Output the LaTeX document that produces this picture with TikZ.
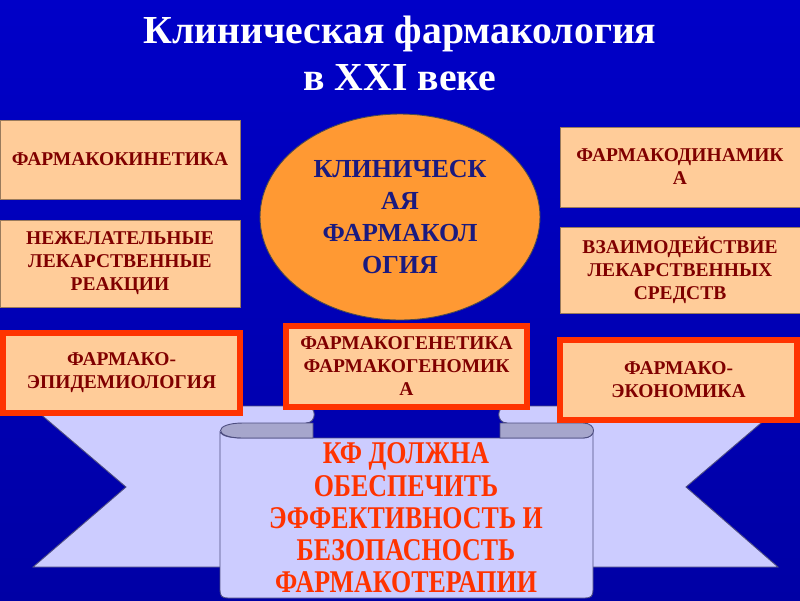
\documentclass[tikz,border=0pt]{standalone}
\usepackage{fontspec}
\setmainfont{Liberation Serif}
\newfontfamily\narrowserif[FakeStretch=0.82]{Liberation Serif}
\usetikzlibrary{shapes.geometric, positioning}
\definecolor{bgtop}{RGB}{0,0,200}
\definecolor{bgmid}{RGB}{0,0,240}
\definecolor{bgbot}{RGB}{0,0,165}
\definecolor{peach}{HTML}{FFCC99}
\definecolor{redframe}{HTML}{FF3300}
\definecolor{boxtext}{HTML}{800000}
\definecolor{orangeell}{HTML}{FF9933}
\definecolor{navytext}{HTML}{1A1A80}
\definecolor{lavender}{HTML}{CCCCFF}
\definecolor{lavdark}{HTML}{A6A6CC}
\definecolor{lavline}{HTML}{4D4D80}
\tikzset{
  % --- Bloki ------------------------------------------------
  fbox/.style={draw=peach!60!black, line width=0.5pt, fill=peach,
    align=center, text=boxtext, minimum width=4.8cm,
    font=\bfseries\fontsize{11.1pt}{13.1pt}\selectfont, inner sep=2pt},
  fboxr/.style={fbox, draw=redframe, line width=3.4pt, minimum width=4.74cm,
    minimum height=1.6cm},
  centre/.style={draw=black!70, line width=0.5pt, ellipse, fill=orangeell,
    minimum width=5.6cm, minimum height=4.12cm, align=center,
    text=navytext, font=\bfseries\fontsize{14.8pt}{18.2pt}\selectfont,
    inner sep=0pt},
  % --- Lenta i svitok ---------------------------------------
  band/.style={draw=lavline, line width=0.5pt, fill=lavender},
  fold/.style={draw=lavline, line width=0.5pt, fill=lavdark},
  scrolltxt/.style={align=center, text=redframe,
    font=\narrowserif\bfseries\fontsize{18pt}{18.4pt}\selectfont},
  titletxt/.style={align=center, text=white,
    font=\bfseries\fontsize{22.6pt}{26.7pt}\selectfont}
}
\begin{document}
\begin{tikzpicture}[x=0.02cm, y=-0.02cm]
  \useasboundingbox (0,0) rectangle (800,600);
  \shade[top color=bgtop, middle color=bgmid, bottom color=bgbot]
    (0,0) rectangle (800,600);

  % ---------- Zagolovok ----------
  \node[titletxt] (title) at (400,53)
    {Клиническая фармакология\\в XXI веке};

  % ---------- Lenta ----------
  \draw[band] (31,406) -- (306,406) .. controls (317,406) and (317,423) ..
    (306,423) -- (306,567) -- (33,567) -- (126,487) -- cycle;
  \draw[band] (781,406) -- (507,406) .. controls (496,406) and (496,423) ..
    (507,423) -- (507,567) -- (778,567) -- (686,487) -- cycle;

  % ---------- Svitok ----------
  \draw[band] (220,432) .. controls (222,436) and (230,438) .. (243,438)
    -- (583,438) .. controls (590,438) and (593,435) .. (593,430)
    -- (593,590) .. controls (593,596) and (591,598) .. (585,598)
    -- (228,598) .. controls (222,598) and (220,596) .. (220,590) -- cycle;
  \draw[fold] (313,423) -- (243,423) .. controls (213,423) and (213,438) ..
    (243,438) -- (313,438) -- cycle;
  \draw[fold] (500,423) -- (583,423) .. controls (597,423) and (597,438) ..
    (583,438) -- (500,438) -- cycle;
  \node[scrolltxt] (kf) at (406,518)
    {КФ ДОЛЖНА\\ОБЕСПЕЧИТЬ\\ЭФФЕКТИВНОСТЬ И\\БЕЗОПАСНОСТЬ\\ФАРМАКОТЕРАПИИ};

  % ---------- Levaya kolonka ----------
  \node[fbox, minimum height=1.58cm] (kin) at (120,159.5) {ФАРМАКОКИНЕТИКА};
  \node[fbox, minimum height=1.74cm] (nlr) at (120,263.5)
    {НЕЖЕЛАТЕЛЬНЫЕ\\ЛЕКАРСТВЕННЫЕ\\РЕАКЦИИ};
  \node[fboxr] (epi) at (121.5,373) {ФАРМАКО-\\ЭПИДЕМИОЛОГИЯ};

  % ---------- Pravaya kolonka ----------
  \node[fbox, minimum height=1.6cm] (din) at (680,167)
    {ФАРМАКОДИНАМИК\\А};
  \node[fbox, minimum height=1.72cm] (vzm) at (680,270)
    {ВЗАИМОДЕЙСТВИЕ\\ЛЕКАРСТВЕННЫХ\\СРЕДСТВ};
  \node[fboxr] (eco) at (678.5,380) {ФАРМАКО-\\ЭКОНОМИКА};

  % ---------- Centr ----------
  \node[centre] (kf0) at (400,217) {КЛИНИЧЕСК\\АЯ\\ФАРМАКОЛ\\ОГИЯ};
  \node[fboxr, minimum width=4.82cm, minimum height=1.62cm] (gen)
    at (406.5,366.5) {ФАРМАКОГЕНЕТИКА\\ФАРМАКОГЕНОМИК\\А};

\end{tikzpicture}
\end{document}
